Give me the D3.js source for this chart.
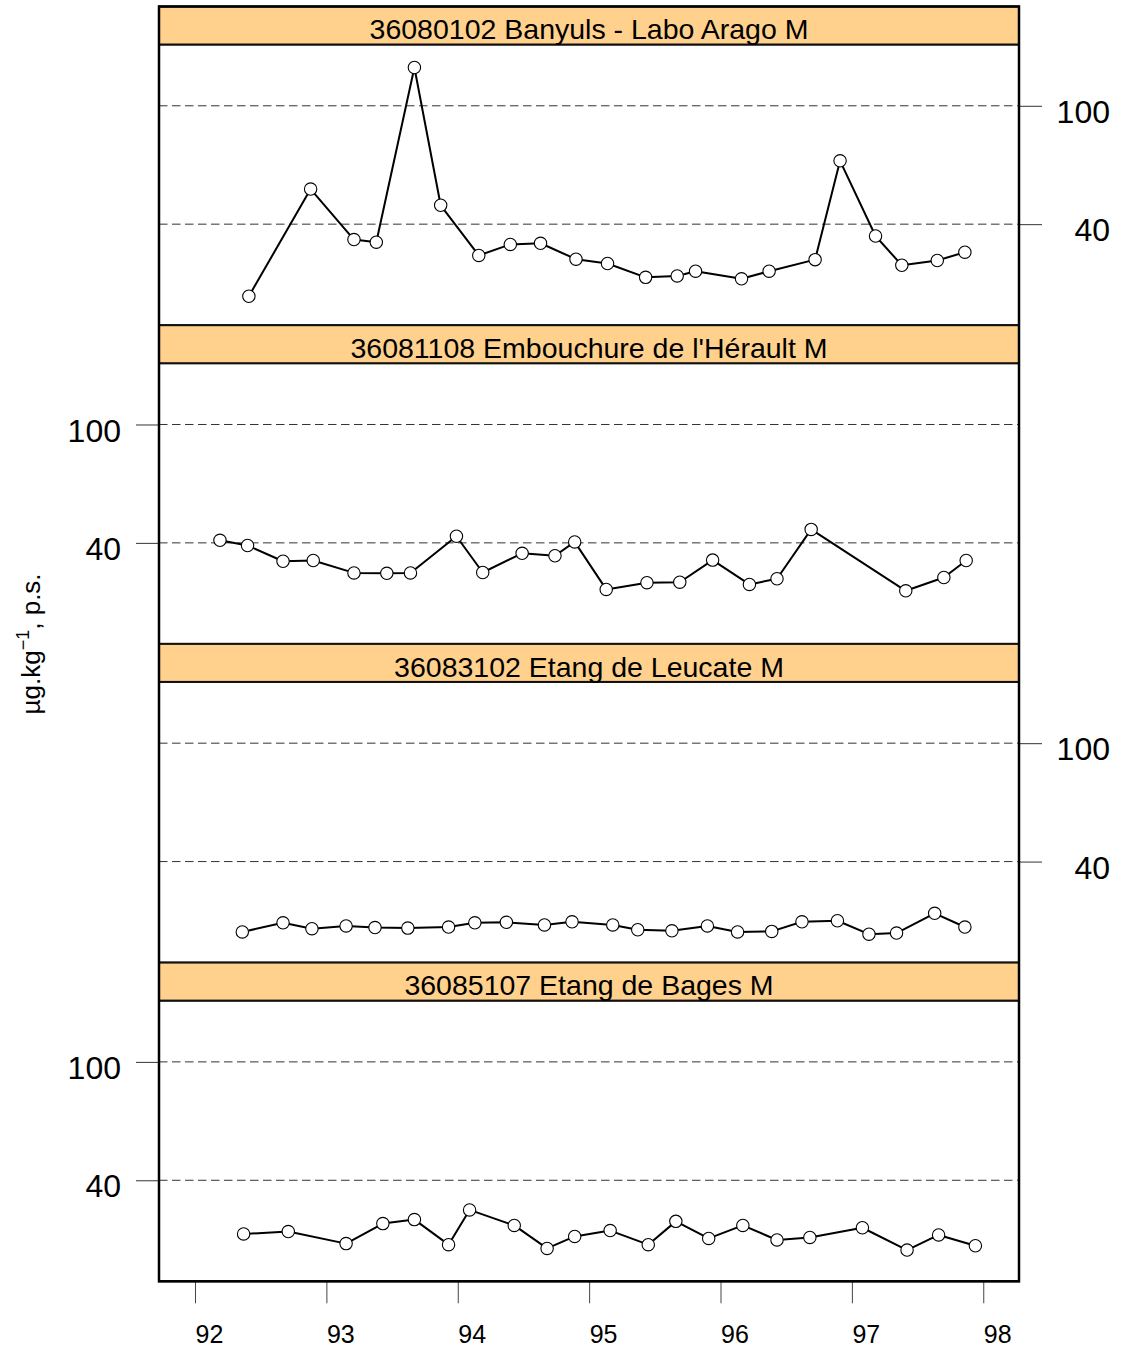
<!DOCTYPE html>
<html>
<head>
<meta charset="utf-8">
<script src="https://cdn.jsdelivr.net/npm/d3@7"></script>
<style>
  html, body { margin: 0; padding: 0; background: #fff; }
  svg { display: block; font-family: "Liberation Sans", Arial, sans-serif; }
</style>
</head>
<body>
<svg id="chart" width="1122" height="1348"></svg>
<script>
// Station titles, top to bottom
const stations = [
  "36080102 Banyuls - Labo Arago M",
  "36081108 Embouchure de l'Hérault M",
  "36083102 Etang de Leucate M",
  "36085107 Etang de Bages M"
];

// Sampling dates (decimal years, two-digit) and concentrations per station
const banyulsYears = [92.41, 92.88, 93.21, 93.38, 93.67, 93.87, 94.16, 94.40, 94.63, 94.90, 95.14,
  95.43, 95.67, 95.81, 96.16, 96.37, 96.72, 96.91, 97.18, 97.38, 97.65, 97.86];
const banyulsValues = [22.9, 52.5, 35.5, 34.8, 134.5, 46.3, 31.4, 34.2, 34.5, 30.5, 29.5,
  26.5, 26.8, 27.8, 26.2, 27.8, 30.4, 65.3, 36.5, 29.1, 30.2, 32.2];

const heraultYears = [92.19, 92.40, 92.67, 92.90, 93.21, 93.46, 93.64, 93.99, 94.19, 94.49, 94.74,
  94.89, 95.13, 95.44, 95.69, 95.94, 96.22, 96.43, 96.69, 97.41, 97.70, 97.87];
const heraultValues = [40.8, 39.2, 34.7, 34.9, 31.7, 31.6, 31.7, 42.1, 31.8, 36.9, 36.2,
  40.3, 27.9, 29.4, 29.5, 35.0, 29.0, 30.3, 44.4, 27.6, 30.6, 34.9];

const leucateYears = [92.36, 92.67, 92.89, 93.15, 93.37, 93.62, 93.93, 94.13, 94.37, 94.66, 94.87,
  95.18, 95.37, 95.63, 95.90, 96.13, 96.39, 96.62, 96.89, 97.13, 97.34, 97.63, 97.86];
const leucateValues = [23.2, 24.9, 23.8, 24.3, 24.0, 23.9, 24.1, 24.9, 25.0, 24.5, 25.1,
  24.5, 23.6, 23.4, 24.3, 23.2, 23.3, 25.1, 25.3, 22.8, 23.0, 26.8, 24.1];

const bagesYears = [92.37, 92.71, 93.15, 93.43, 93.67, 93.93, 94.09, 94.43, 94.68, 94.89, 95.16,
  95.45, 95.66, 95.91, 96.17, 96.43, 96.68, 97.08, 97.42, 97.66, 97.94];
const bagesValues = [26.4, 26.9, 24.5, 28.6, 29.5, 24.3, 31.8, 28.2, 23.6, 25.9, 27.1,
  24.3, 29.1, 25.5, 28.2, 25.2, 25.7, 27.7, 23.3, 26.2, 24.1];

const xTicks = [92, 93, 94, 95, 96, 97, 98];
const xTickLabels = ["92", "93", "94", "95", "96", "97", "98"];
const yTicks = [40, 100];
const yTickLabels = ["40", "100"];

const seriesYears = [banyulsYears, heraultYears, leucateYears, bagesYears];
const seriesValues = [banyulsValues, heraultValues, leucateValues, bagesValues];

// Layout
const left = 159, right = 1019;
const firstStripTop = 6.5, stripH = 38, plotH = 280.7, unit = stripH + plotH;
const stripFill = "#ffd18c";

const svg = d3.select("#chart");

const x = d3.scaleLinear().domain([91.726, 98.272]).range([left, right]);
const yBase = d3.scaleLog().domain([18.3, 160.7]).range([plotH, 0]);

stations.forEach((title, i) => {
  const stripTop = firstStripTop + i * unit;
  const plotTop = stripTop + stripH;
  const g = svg.append("g").attr("transform", `translate(0,${plotTop})`);

  // dashed reference lines
  g.selectAll("line.grid").data(yTicks).enter().append("line")
    .attr("class", "grid")
    .attr("x1", left).attr("x2", right)
    .attr("y1", d => yBase(d)).attr("y2", d => yBase(d))
    .attr("stroke", "#333").attr("stroke-width", 1)
    .attr("stroke-dasharray", "8.5,4.5");

  // y axis alternates sides: right for the 1st and 3rd panels, left otherwise
  const onRight = i % 2 === 0;
  const axis = onRight ? d3.axisRight(yBase) : d3.axisLeft(yBase);
  axis.tickValues(yTicks).tickFormat((d, k) => yTickLabels[k]).tickSize(23).tickPadding(0);
  const ax = g.append("g")
    .attr("transform", `translate(${onRight ? right : left},0)`)
    .call(axis);
  ax.select(".domain").remove();
  ax.selectAll(".tick line").attr("stroke", "#333").attr("stroke-width", 1);
  ax.selectAll(".tick text")
    .attr("font-size", 32)
    .attr("fill", "#000")
    .attr("text-anchor", "end")
    .attr("x", onRight ? 91 : -38)
    .attr("dy", "0.52em")
    .attr("font-family", "'Liberation Sans', Arial, sans-serif");

  // series line and markers
  const pts = seriesYears[i].map((yr, k) => [yr, seriesValues[i][k]]);
  const line = d3.line().x(d => x(d[0])).y(d => yBase(d[1]));
  g.append("path").datum(pts)
    .attr("d", line)
    .attr("fill", "none")
    .attr("stroke", "#000")
    .attr("stroke-width", 2)
    .attr("stroke-linejoin", "round");
  g.selectAll("circle").data(pts).enter().append("circle")
    .attr("cx", d => x(d[0])).attr("cy", d => yBase(d[1]))
    .attr("r", 6.2)
    .attr("fill", "#fff")
    .attr("stroke", "#000")
    .attr("stroke-width", 1.1);

  // panel frame
  g.append("rect")
    .attr("x", left).attr("y", 0)
    .attr("width", right - left).attr("height", plotH)
    .attr("fill", "none").attr("stroke", "#111").attr("stroke-width", 2);

  // strip
  svg.append("rect")
    .attr("x", left).attr("y", stripTop)
    .attr("width", right - left).attr("height", stripH)
    .attr("fill", stripFill).attr("stroke", "#111").attr("stroke-width", 2);
  svg.append("text")
    .attr("x", (left + right) / 2)
    .attr("y", stripTop + 32.6)
    .attr("text-anchor", "middle")
    .attr("font-size", 28.5)
    .attr("fill", "#000")
    .text(title);
});

// bottom x axis
const bottom = firstStripTop + stations.length * unit;
const xAxis = d3.axisBottom(x).tickValues(xTicks)
  .tickFormat((d, k) => xTickLabels[k]).tickSize(22).tickPadding(0);
const xg = svg.append("g").attr("transform", `translate(0,${bottom})`).call(xAxis);
xg.select(".domain").remove();
xg.selectAll(".tick line").attr("stroke", "#444").attr("stroke-width", 1);
xg.selectAll(".tick text")
  .attr("font-size", 25)
  .attr("fill", "#000")
  .attr("text-anchor", "start")
  .attr("y", 62)
  .attr("dy", 0)
  .attr("font-family", "'Liberation Sans', Arial, sans-serif");

// outer frame
svg.append("rect")
  .attr("x", left).attr("y", firstStripTop)
  .attr("width", right - left).attr("height", bottom - firstStripTop)
  .attr("fill", "none").attr("stroke", "#000").attr("stroke-width", 2.5);

// y axis title
const yTitle = svg.append("text")
  .attr("transform", `translate(40,${(firstStripTop + bottom) / 2}) rotate(-90)`)
  .attr("text-anchor", "middle")
  .attr("font-size", 26)
  .attr("fill", "#000");
yTitle.append("tspan").text("µg.kg");
yTitle.append("tspan").attr("dy", -11).attr("font-size", 18).text("−1");
yTitle.append("tspan").attr("dy", 11).text(", p.s.");
</script>
</body>
</html>
